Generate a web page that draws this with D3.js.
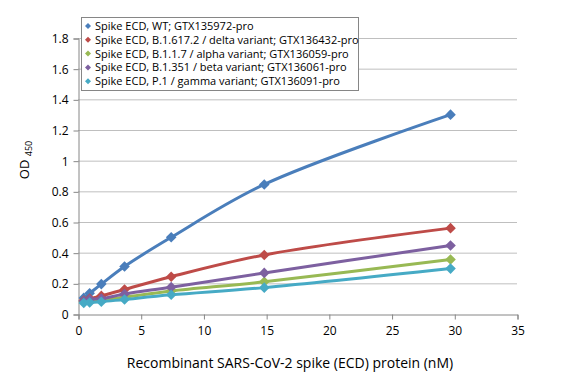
<!DOCTYPE html>
<html><head><meta charset="utf-8">
<script src="https://cdn.jsdelivr.net/npm/d3@7"></script>
<style>body{margin:0;background:#fff;}svg{display:block;font-family:"Open Sans","Liberation Sans",sans-serif;}</style>
</head><body>
<script>
const concentrations = [0.46, 0.93, 1.86, 3.71, 7.43, 14.85, 29.7];
const seriesNames = [
  "Spike ECD, WT; GTX135972-pro",
  "Spike ECD, B.1.617.2 / delta variant; GTX136432-pro",
  "Spike ECD, B.1.1.7 / alpha variant; GTX136059-pro",
  "Spike ECD, B.1.351 / beta variant; GTX136061-pro",
  "Spike ECD, P.1 / gamma variant; GTX136091-pro"
];
const wtValues    = [0.105, 0.135, 0.195, 0.31, 0.50, 0.845, 1.30];
const deltaValues = [0.088, 0.10, 0.118, 0.16, 0.243, 0.385, 0.56];
const alphaValues = [0.082, 0.085, 0.092, 0.11, 0.15, 0.21, 0.355];
const betaValues  = [0.085, 0.095, 0.10, 0.13, 0.175, 0.268, 0.447];
const gammaValues = [0.072, 0.075, 0.08, 0.095, 0.125, 0.172, 0.296];
const colors = ["#4A7EBB", "#BE4B48", "#98B954", "#7D60A0", "#46AAC5"];
const xTicks = [0, 5, 10, 15, 20, 25, 30, 35];
const yTicks = [0, 0.2, 0.4, 0.6, 0.8, 1, 1.2, 1.4, 1.6, 1.8];

const series = [wtValues, deltaValues, alphaValues, betaValues, gammaValues];
const W = 582, H = 382;
const svg = d3.select("body").append("svg").attr("width", W).attr("height", H);
const x = d3.scaleLinear().domain([0, 35]).range([78, 517]);
const y = d3.scaleLinear().domain([0, 1.8]).range([314, 38]);

// gridlines
svg.append("g").selectAll("line").data(yTicks.filter(d => d > 0)).join("line")
  .attr("x1", x(0)).attr("x2", x(35))
  .attr("y1", d => y(d) + 0.5).attr("y2", d => y(d) + 0.5)
  .attr("stroke", "#BFBFBF").attr("stroke-width", 1);

// axes
const yAxis = d3.axisLeft(y).tickValues(yTicks).tickSize(5).tickPadding(5)
  .tickFormat(d => d3.format("")(+d.toFixed(1)));
const gy = svg.append("g").attr("transform", `translate(${x(0) + 0.5},0.5)`).call(yAxis);
const xAxis = d3.axisBottom(x).tickValues(xTicks).tickSize(5).tickPadding(7);
const gx = svg.append("g").attr("transform", `translate(0.5,${y(0) + 0.5})`).call(xAxis);
[gx, gy].forEach(g => {
  g.select(".domain").attr("stroke", "#868686");
  g.selectAll(".tick line").attr("stroke", "#868686");
  g.selectAll(".tick text").attr("fill", "#000").style("font-size", "12px")
    .style("font-family", '"Open Sans","Liberation Sans",sans-serif');
});

// lines
const line = d3.line().x((d, i) => x(concentrations[i])).y(d => y(d)).curve(d3.curveCatmullRom.alpha(0.5));
series.forEach((vals, si) => {
  const g = svg.append("g");
  g.append("path").datum(vals).attr("d", line).attr("fill", "none")
    .attr("stroke", colors[si]).attr("stroke-width", 3).attr("stroke-linejoin", "round");
  g.selectAll("path.m").data(vals).join("path").attr("class", "m")
    .attr("d", d3.symbol().type(d3.symbolSquare).size(56))
    .attr("transform", (d, i) => `translate(${x(concentrations[i])},${y(d)}) rotate(45)`)
    .attr("fill", colors[si]);
});

// legend
const lg = svg.append("g");
lg.append("rect").attr("x", 81.5).attr("y", 17.5).attr("width", 277).attr("height", 73)
  .attr("fill", "#fff").attr("stroke", "#868686");
seriesNames.forEach((name, i) => {
  const cy = 26 + i * 13.8;
  lg.append("path").attr("d", d3.symbol().type(d3.symbolSquare).size(18))
    .attr("transform", `translate(88,${cy}) rotate(45)`).attr("fill", colors[i]);
  lg.append("text").attr("x", 95).attr("y", cy + 4).text(name)
    .style("font-size", "11px").attr("fill", "#000");
});

// axis titles
svg.append("text").attr("x", 290).attr("y", 368).attr("text-anchor", "middle")
  .style("font-size", "14px").text("Recombinant SARS-CoV-2 spike (ECD) protein (nM)");
const yt = svg.append("text").attr("transform", "translate(29,160) rotate(-90)").attr("text-anchor", "middle")
  .style("font-size", "13px");
yt.append("tspan").text("OD ");
yt.append("tspan").attr("dy", 3).style("font-size", "9px").text("450");
</script>
</body></html>
